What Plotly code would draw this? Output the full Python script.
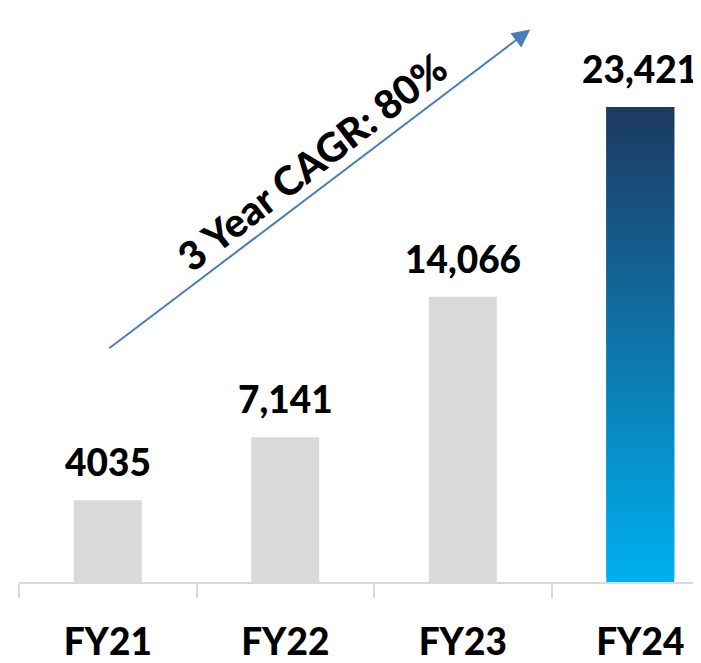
import plotly.graph_objects as go

categories = ["FY21", "FY22", "FY23", "FY24"]
values = [4035, 7141, 14066, 23421]
value_labels = ["4035", "7,141", "14,066", "23,421"]
cagr_text = "3 Year CAGR: 80%"

GRAY = "#d9d9d9"
TOP = (0x1c, 0x39, 0x61)
BOT = (0x00, 0xb0, 0xf0)
FONT = "Lato"
FS = 37
W = 900

fig = go.Figure()

fig.add_trace(go.Bar(x=categories[:-1], y=values[:-1], marker=dict(color=GRAY, line=dict(width=0)),
                     width=0.383, hoverinfo="skip"))

# gradient bar for last category: overlapping stacked slices
N = 100
v = values[-1]
seg = v / N
cols, heights, bases = [], [], []
for i in range(N):
    t = (i + 0.5) / N
    c = tuple(round(BOT[k] + (TOP[k] - BOT[k]) * t) for k in range(3))
    cols.append("rgb(%d,%d,%d)" % c)
    bases.append(seg * i)
    heights.append(seg * 2 if i < N - 1 else seg)
fig.add_trace(go.Bar(x=[categories[-1]] * N, y=heights, base=bases,
                     marker=dict(color=cols, line=dict(width=0)), width=0.383, hoverinfo="skip"))

annotations = []
for c, val, lab in zip(categories, values, value_labels):
    annotations.append(dict(x=c, y=val, text=lab, showarrow=False, yanchor="bottom",
                            yshift=14, font=dict(family=FONT, size=FS, color="black", weight=W)))

annotations.append(dict(x=2.38, y=27240, ax=0.0, ay=11470, xref="x", yref="y", axref="x", ayref="y",
                        text="", showarrow=True, arrowhead=2, arrowsize=1.8, arrowwidth=2,
                        arrowcolor="#4a7ebb"))
annotations.append(dict(x=1.15, y=20700, xref="x", yref="y", text=cagr_text,
                        showarrow=False, textangle=-37.7,
                        font=dict(family=FONT, size=40, color="black", weight=W)))

# page body has an 8px default margin, so the figure is 8px smaller and offset
fig.update_layout(
    width=693, height=655, margin=dict(l=11, r=0, t=0, b=78),
    paper_bgcolor="white", plot_bgcolor="white", showlegend=False, barmode="overlay",
    annotations=annotations,
    xaxis=dict(range=[-0.5, 3.342], showgrid=False, showline=True, linecolor=GRAY, linewidth=2,
               ticks="outside", tickson="boundaries", ticklen=14, tickwidth=2, tickcolor=GRAY,
               tickfont=dict(family=FONT, size=FS, color="black", weight=W),
               ticklabelstandoff=27, fixedrange=True, zeroline=False),
    yaxis=dict(range=[0, 28300], visible=False, showgrid=False, zeroline=False, fixedrange=True),
)

fig.write_html("out.html")
